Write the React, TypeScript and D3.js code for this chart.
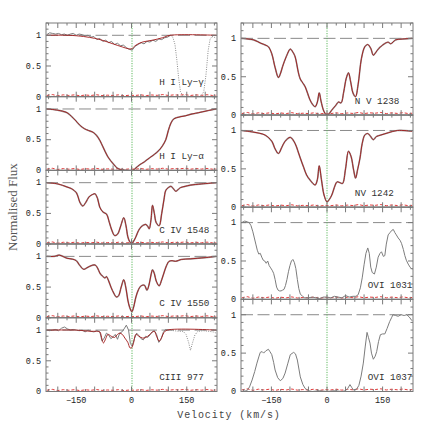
import React from "react";
import * as d3 from "d3";

type P = [number, number];

// ---------- tick values ----------
const xLabelTicks = [-150, 0, 150];
const yLabelTicks = [0, 0.5, 1];

// ---------- shared error spectrum ----------
const errorSpec: P[] = [
  [-230, 0.02], [-215, 0.035], [-200, 0.015], [-185, 0.03], [-170, 0.02], [-155, 0.03], [-140, 0.015],
  [-125, 0.028], [-110, 0.02], [-95, 0.032], [-80, 0.018], [-65, 0.025], [-50, 0.02], [-35, 0.03],
  [-20, 0.015], [-5, 0.025], [10, 0.02], [25, 0.03], [40, 0.018], [55, 0.028], [70, 0.022], [85, 0.035],
  [100, 0.02], [115, 0.03], [130, 0.025], [145, 0.035], [160, 0.02], [175, 0.03], [190, 0.022],
  [205, 0.032], [220, 0.02], [230, 0.025],
];

// ---------- H I Ly-gamma ----------
const lygFit: P[] = [
  [-230, 1.0], [-170, 1.0], [-130, 0.98], [-100, 0.95], [-80, 0.92], [-50, 0.86], [-25, 0.81],
  [-8, 0.78], [0, 0.78], [12, 0.84], [30, 0.89], [57, 0.92], [84, 0.96], [105, 1.0], [230, 1.0],
];
const lygData: P[] = [
  [-230, 1.01], [-222, 1.04], [-214, 1.03], [-206, 1.02], [-198, 1.03], [-190, 1.01], [-182, 1.02],
  [-174, 1.0], [-166, 1.02], [-158, 1.03], [-150, 1.0], [-142, 1.02], [-134, 1.01], [-126, 0.99],
  [-118, 1.0], [-110, 0.97], [-102, 0.98], [-94, 0.93], [-86, 0.95], [-78, 0.9], [-70, 0.92],
  [-62, 0.88], [-54, 0.9], [-46, 0.85], [-38, 0.87], [-30, 0.83], [-22, 0.84], [-14, 0.8], [-6, 0.77],
  [2, 0.76], [10, 0.82], [18, 0.85], [26, 0.88], [34, 0.86], [42, 0.9], [50, 0.89], [58, 0.92],
  [66, 0.9], [74, 0.94], [82, 0.93], [90, 0.96], [98, 0.97], [106, 1.0],
];
const lygOther: P[] = [
  [106, 1.0], [112, 0.97], [118, 0.85], [123, 0.6], [128, 0.3], [133, 0.08], [140, 0.01], [160, 0.0],
  [180, 0.0], [188, 0.01], [196, 0.08], [202, 0.35], [208, 0.75], [213, 0.93], [218, 0.98], [224, 0.97],
  [230, 0.95],
];

// ---------- H I Ly-alpha ----------
const lyaFit: P[] = [
  [-230, 1.0], [-200, 0.98], [-175, 0.94], [-163, 0.88], [-153, 0.82], [-139, 0.73], [-128, 0.68],
  [-117, 0.65], [-104, 0.62], [-95, 0.57], [-86, 0.49], [-78, 0.39], [-64, 0.22], [-50, 0.11],
  [-37, 0.03], [-23, 0.005], [-10, 0.0], [3, 0.0], [12, 0.04], [21, 0.087], [35, 0.14], [48, 0.2],
  [62, 0.26], [75, 0.33], [84, 0.4], [93, 0.5], [100, 0.65], [107, 0.77], [115, 0.84], [130, 0.87],
  [147, 0.89], [165, 0.92], [182, 0.94], [205, 0.97], [230, 1.0],
];

// ---------- C IV 1548 ----------
const c1548Fit: P[] = [
  [-230, 1.0], [-200, 0.98], [-175, 0.93], [-162, 0.9], [-150, 0.84], [-145, 0.77], [-140, 0.68],
  [-132, 0.62], [-124, 0.68], [-115, 0.77], [-105, 0.81], [-99, 0.82], [-92, 0.74], [-86, 0.6],
  [-77, 0.52], [-68, 0.49], [-60, 0.35], [-53, 0.22], [-46, 0.14], [-38, 0.16], [-29, 0.3],
  [-21, 0.43], [-15, 0.3], [-10, 0.12], [-5, 0.04], [0, 0.01], [6, 0.05], [12, 0.12], [19, 0.22],
  [26, 0.28], [33, 0.31], [39, 0.32], [44, 0.29], [48, 0.25], [53, 0.4], [57, 0.63], [62, 0.5],
  [67, 0.35], [75, 0.3], [82, 0.5], [88, 0.72], [93, 0.875], [100, 0.92], [107, 0.94], [114, 0.9],
  [120, 0.86], [127, 0.89], [133, 0.92], [145, 0.94], [160, 0.96], [190, 0.98], [230, 1.0],
];

// ---------- C IV 1550 ----------
const c1550Fit: P[] = [
  [-230, 1.0], [-210, 1.0], [-196, 1.02], [-175, 0.97], [-160, 0.955], [-150, 0.93], [-140, 0.85],
  [-130, 0.79], [-122, 0.81], [-113, 0.84], [-99, 0.86], [-92, 0.81], [-86, 0.73], [-79, 0.68],
  [-72, 0.65], [-68, 0.67], [-62, 0.6], [-55, 0.49], [-48, 0.4], [-41, 0.34], [-35, 0.36],
  [-28, 0.5], [-21, 0.62], [-15, 0.48], [-10, 0.29], [-5, 0.17], [1, 0.1], [6, 0.18], [12, 0.34],
  [19, 0.46], [26, 0.52], [35, 0.53], [42, 0.45], [48, 0.55], [53, 0.7], [57, 0.78], [62, 0.72],
  [67, 0.6], [75, 0.52], [82, 0.62], [88, 0.73], [95, 0.85], [102, 0.92], [110, 0.93], [120, 0.92],
  [135, 0.95], [160, 0.96], [200, 0.98], [230, 1.0],
];

// ---------- C III 977 ----------
const c977Fit: P[] = [
  [-230, 1.0], [-150, 1.0], [-130, 0.99], [-110, 0.98], [-95, 0.98], [-86, 0.97], [-80, 0.85],
  [-76, 0.79], [-70, 0.86], [-64, 0.93], [-55, 0.9], [-46, 0.88], [-38, 0.93], [-32, 0.95],
  [-25, 0.93], [-18, 0.87], [-10, 0.8], [-4, 0.71], [0, 0.71], [5, 0.78], [12, 0.93], [20, 0.9],
  [30, 0.87], [39, 0.88], [48, 0.92], [55, 0.96], [62, 0.98], [68, 0.9], [75, 0.82], [82, 0.88],
  [88, 0.96], [97, 1.0], [230, 1.0],
];
const c977Data: P[] = [
  [-230, 1.0], [-222, 0.99], [-214, 1.0], [-206, 1.01], [-198, 0.99], [-190, 1.03], [-182, 1.05],
  [-174, 1.02], [-166, 1.0], [-158, 1.01], [-150, 1.0], [-142, 0.99], [-134, 1.0], [-126, 0.97],
  [-118, 1.0], [-110, 0.98], [-102, 0.97], [-94, 0.99], [-86, 0.97], [-80, 0.82], [-74, 0.87],
  [-68, 0.95], [-62, 0.92], [-56, 0.86], [-50, 0.89], [-44, 0.93], [-38, 0.85], [-32, 0.95],
  [-26, 0.97], [-20, 1.02], [-14, 1.08], [-8, 1.0], [-3, 0.78], [2, 0.74], [8, 0.86], [14, 0.95],
  [20, 0.91], [26, 0.86], [32, 0.84], [38, 0.9], [44, 0.88], [50, 0.92], [56, 0.97], [62, 0.99],
  [68, 0.93], [74, 0.8], [80, 0.85], [86, 0.96], [92, 1.01], [100, 1.0],
];
const c977Other: P[] = [
  [100, 1.0], [115, 0.99], [130, 0.98], [140, 0.98], [148, 0.93], [155, 0.8], [160, 0.67],
  [165, 0.78], [172, 0.92], [180, 0.98], [195, 0.99], [210, 0.98], [222, 0.97], [230, 0.95],
];

// ---------- N V 1238 ----------
const nv1238Fit: P[] = [
  [-231, 1.0], [-198, 0.98], [-180, 0.94], [-165, 0.91], [-158, 0.89], [-149, 0.8], [-140, 0.62],
  [-131, 0.49], [-125, 0.55], [-120, 0.63], [-110, 0.76], [-99, 0.86], [-92, 0.82], [-86, 0.76],
  [-77, 0.55], [-72, 0.47], [-64, 0.41], [-59, 0.37], [-52, 0.28], [-46, 0.2], [-39, 0.14],
  [-32, 0.11], [-26, 0.17], [-21, 0.29], [-16, 0.18], [-10, 0.07], [-5, 0.02], [0, 0.0], [6, 0.02],
  [12, 0.06], [17, 0.09], [24, 0.13], [31, 0.17], [38, 0.16], [45, 0.3], [52, 0.48], [58, 0.55],
  [64, 0.43], [70, 0.29], [77, 0.24], [84, 0.4], [93, 0.74], [102, 0.89], [110, 0.92], [118, 0.87],
  [125, 0.78], [132, 0.82], [140, 0.87], [147, 0.9], [155, 0.93], [165, 0.95], [172, 0.93],
  [185, 0.98], [200, 0.99], [230, 1.0],
];

// ---------- N V 1242 ----------
const nv1242Fit: P[] = [
  [-231, 1.0], [-200, 0.98], [-167, 0.94], [-149, 0.86], [-140, 0.76], [-131, 0.7], [-122, 0.78],
  [-113, 0.86], [-99, 0.91], [-86, 0.83], [-79, 0.74], [-72, 0.64], [-63, 0.52], [-55, 0.42],
  [-45, 0.35], [-32, 0.29], [-26, 0.36], [-21, 0.54], [-15, 0.36], [-8, 0.16], [0, 0.07], [6, 0.1],
  [13, 0.16], [20, 0.26], [27, 0.33], [35, 0.32], [42, 0.31], [50, 0.5], [58, 0.73], [65, 0.66],
  [72, 0.48], [77, 0.38], [83, 0.5], [89, 0.64], [95, 0.83], [102, 0.94], [110, 0.96], [118, 0.92],
  [125, 0.88], [133, 0.92], [145, 0.94], [165, 0.97], [190, 1.0], [230, 0.99],
];

// ---------- O VI 1031 ----------
const ovi1031Data: P[] = [
  [-230, 1.0], [-222, 1.02], [-215, 1.01], [-210, 1.0], [-205, 0.96], [-200, 0.88], [-196, 0.8],
  [-192, 0.72], [-188, 0.64], [-184, 0.59], [-180, 0.6], [-176, 0.55], [-172, 0.51], [-168, 0.5],
  [-164, 0.47], [-160, 0.5], [-156, 0.44], [-152, 0.41], [-148, 0.38], [-144, 0.34], [-140, 0.26],
  [-136, 0.16], [-132, 0.12], [-128, 0.11], [-124, 0.11], [-120, 0.12], [-116, 0.13], [-112, 0.18],
  [-108, 0.26], [-104, 0.36], [-100, 0.44], [-96, 0.5], [-92, 0.52], [-88, 0.48], [-84, 0.4],
  [-80, 0.26], [-76, 0.14], [-72, 0.07], [-66, 0.04], [-60, 0.02], [-50, 0.02], [-40, 0.03],
  [-30, 0.02], [-20, 0.01], [-10, 0.03], [0, 0.03], [10, 0.02], [20, 0.04], [30, 0.03], [40, 0.02],
  [50, 0.05], [60, 0.03], [70, 0.04], [78, 0.04], [84, 0.06], [90, 0.15], [95, 0.28], [100, 0.45],
  [105, 0.6], [110, 0.67], [114, 0.6], [118, 0.42], [122, 0.35], [128, 0.33], [133, 0.42],
  [138, 0.55], [143, 0.6], [147, 0.62], [152, 0.56], [156, 0.57], [160, 0.72], [165, 0.84],
  [170, 0.87], [175, 0.9], [179, 0.91], [183, 0.87], [187, 0.84], [192, 0.8], [197, 0.77],
  [201, 0.73], [206, 0.65], [210, 0.57], [214, 0.51], [219, 0.46], [224, 0.42], [228, 0.4], [230, 0.39],
];

// ---------- O VI 1037 ----------
const ovi1037Data: P[] = [
  [-230, 0.0], [-216, 0.01], [-209, 0.06], [-202, 0.15], [-195, 0.26], [-189, 0.37], [-184, 0.45],
  [-180, 0.51], [-175, 0.52], [-171, 0.5], [-165, 0.53], [-158, 0.55], [-154, 0.52], [-149, 0.48],
  [-144, 0.38], [-140, 0.28], [-133, 0.18], [-126, 0.14], [-119, 0.17], [-113, 0.24], [-106, 0.36],
  [-99, 0.48], [-90, 0.51], [-85, 0.49], [-80, 0.41], [-72, 0.19], [-65, 0.09], [-59, 0.04],
  [-50, 0.01], [-40, 0.0], [-20, 0.01], [0, 0.0], [20, 0.01], [40, 0.0], [50, 0.01], [56, 0.04],
  [62, 0.09], [67, 0.05], [71, 0.02], [80, 0.03], [86, 0.08], [92, 0.2], [98, 0.37], [103, 0.58],
  [108, 0.77], [112, 0.7], [116, 0.63], [120, 0.5], [125, 0.42], [130, 0.46], [134, 0.52],
  [139, 0.65], [144, 0.74], [150, 0.75], [156, 0.75], [162, 0.82], [169, 0.91], [174, 0.96],
  [178, 1.0], [185, 0.99], [192, 0.98], [200, 1.0], [208, 0.99], [215, 1.0], [222, 0.97],
  [228, 0.93], [230, 0.92],
];

// ---------- panel labels ----------
const leftLabels = ["H I Ly\u2212\u03b3", "H I Ly\u2212\u03b1", "C IV 1548", "C IV 1550", "CIII 977"];
const rightLabels = ["N V 1238", "NV 1242", "OVI 1031", "OVI 1037"];

type Panel = {
  label: string;
  fit?: P[];
  data?: P[];
  other?: P[];
  labelV: number;
};

const W = 436;
const H = 436;
const TOP = 23;
const BOTTOM = 391.5;
const LEFT_X: [number, number] = [46, 217];
const RIGHT_X: [number, number] = [241, 413];
const XDOM: [number, number] = [-232, 232];

const FRAME = "#7a7a7a";
const MONO = "'Liberation Mono', 'DejaVu Sans Mono', monospace";

function PanelView({ p, xr, y0, y1, id, showX, labelAt }: {
  p: Panel; xr: [number, number]; y0: number; y1: number; id: string; showX: boolean; labelAt: number;
}) {
  const x = d3.scaleLinear().domain(XDOM).range(xr);
  const y = d3.scaleLinear().domain([0, 1.2]).range([y1, y0]);
  const smooth = d3.line<P>().x((d) => x(d[0])).y((d) => y(d[1])).curve(d3.curveCatmullRom.alpha(0.5));
  const raw = d3.line<P>().x((d) => x(d[0])).y((d) => y(d[1]));

  const xMinor = d3.range(-225, 226, 25);
  const yMinor = d3.range(0, 1.21, 0.1);
  const zx = Math.round(x(0));

  return (
    <g>
      <defs>
        <clipPath id={id}>
          <rect x={xr[0]} y={y0} width={xr[1] - xr[0]} height={y1 - y0} />
        </clipPath>
      </defs>
      <g clipPath={`url(#${id})`}>
        <line x1={xr[0]} x2={xr[1]} y1={y(1)} y2={y(1)} stroke="#8a8a8a" strokeWidth={1} strokeDasharray="12,4.5" />
        <line x1={zx} x2={zx} y1={y0} y2={y1} stroke="#5cb85c" strokeWidth={1} strokeDasharray="1.2,1.3" />
        <line x1={xr[0]} x2={xr[1]} y1={y(0)} y2={y(0)} stroke="#111" strokeWidth={1} />
        <path d={raw(errorSpec) ?? ""} fill="none" stroke="#e03a3a" strokeWidth={1} strokeDasharray="3,2" />
        {p.other && (
          <path d={raw(p.other) ?? ""} fill="none" stroke="#8c8c8c" strokeWidth={1} strokeDasharray="1,1.3" />
        )}
        {p.data && <path d={raw(p.data) ?? ""} fill="none" stroke="#7c7c7c" strokeWidth={1} />}
        {p.fit && !p.data && (
          <path d={smooth(p.fit) ?? ""} fill="none" stroke="#9a9a9a" strokeWidth={1.6} />
        )}
        {p.fit && <path d={smooth(p.fit) ?? ""} fill="none" stroke="#a01818" strokeWidth={0.9} />}
      </g>
      {/* frame */}
      <rect x={xr[0]} y={y0} width={xr[1] - xr[0]} height={y1 - y0} fill="none" stroke={FRAME} strokeWidth={1} />
      {xMinor.map((v) => {
        const len = v % 50 === 0 ? 5 : 2.5;
        return (
          <g key={"xt" + v}>
            <line x1={x(v)} x2={x(v)} y1={y1} y2={y1 - len} stroke={FRAME} strokeWidth={1} />
            <line x1={x(v)} x2={x(v)} y1={y0} y2={y0 + len} stroke={FRAME} strokeWidth={1} />
          </g>
        );
      })}
      {yMinor.map((v, i) => {
        const len = i % 5 === 0 ? 5 : 2.5;
        return (
          <g key={"yt" + i}>
            <line x1={xr[0]} x2={xr[0] + len} y1={y(v)} y2={y(v)} stroke={FRAME} strokeWidth={1} />
            <line x1={xr[1]} x2={xr[1] - len} y1={y(v)} y2={y(v)} stroke={FRAME} strokeWidth={1} />
          </g>
        );
      })}
      {yLabelTicks.map((v) => (
        <text key={"yl" + v} x={xr[0] - 5} y={y(v)} dy="0.33em" textAnchor="end" fontFamily={MONO}
          fontSize={8.5} fill="#222">{v}</text>
      ))}
      {showX && xLabelTicks.map((v) => (
        <text key={"xl" + v} x={x(v)} y={y1 + 11} textAnchor="middle" fontFamily={MONO} fontSize={8.5}
          fill="#222">{v < 0 ? "\u2212" + Math.abs(v) : String(v)}</text>
      ))}
      <text x={x(p.labelV)} y={y(labelAt)} fontFamily={MONO} fontSize={9.3} fill="#333">{p.label}</text>
    </g>
  );
}

export default function App() {
  const left: Panel[] = [
    { label: leftLabels[0], fit: lygFit, data: lygData, other: lygOther, labelV: 75 },
    { label: leftLabels[1], fit: lyaFit, labelV: 75 },
    { label: leftLabels[2], fit: c1548Fit, labelV: 75 },
    { label: leftLabels[3], fit: c1550Fit, labelV: 75 },
    { label: leftLabels[4], fit: c977Fit, data: c977Data, other: c977Other, labelV: 75 },
  ];
  const right: Panel[] = [
    { label: rightLabels[0], fit: nv1238Fit, labelV: 75 },
    { label: rightLabels[1], fit: nv1242Fit, labelV: 75 },
    { label: rightLabels[2], data: ovi1031Data, labelV: 110 },
    { label: rightLabels[3], data: ovi1037Data, labelV: 110 },
  ];
  const lh = (BOTTOM - TOP) / left.length;
  const rh = (BOTTOM - TOP) / right.length;

  return (
    <svg width={W} height={H} viewBox={`0 0 ${W} ${H}`}
      style={{ position: "absolute", left: 0, top: 0, background: "#fff" }}>
      <rect width={W} height={H} fill="#fff" />
      {left.map((p, i) => (
        <PanelView key={"l" + i} p={p} xr={LEFT_X} y0={TOP + i * lh} y1={TOP + (i + 1) * lh}
          id={"cl" + i} showX={i === left.length - 1} labelAt={0.185} />
      ))}
      {right.map((p, i) => (
        <PanelView key={"r" + i} p={p} xr={RIGHT_X} y0={TOP + i * rh} y1={TOP + (i + 1) * rh}
          id={"cr" + i} showX={i === right.length - 1} labelAt={0.145} />
      ))}
      <text transform="translate(17,207) rotate(-90)" textAnchor="middle"
        fontFamily="'Liberation Serif', 'DejaVu Serif', serif" fontSize={13} fill="#555">Normalised Flux</text>
      <text x={229} y={418} textAnchor="middle" fontFamily={MONO} fontSize={10} letterSpacing={0.9}
        fill="#444">Velocity (km/s)</text>
    </svg>
  );
}
